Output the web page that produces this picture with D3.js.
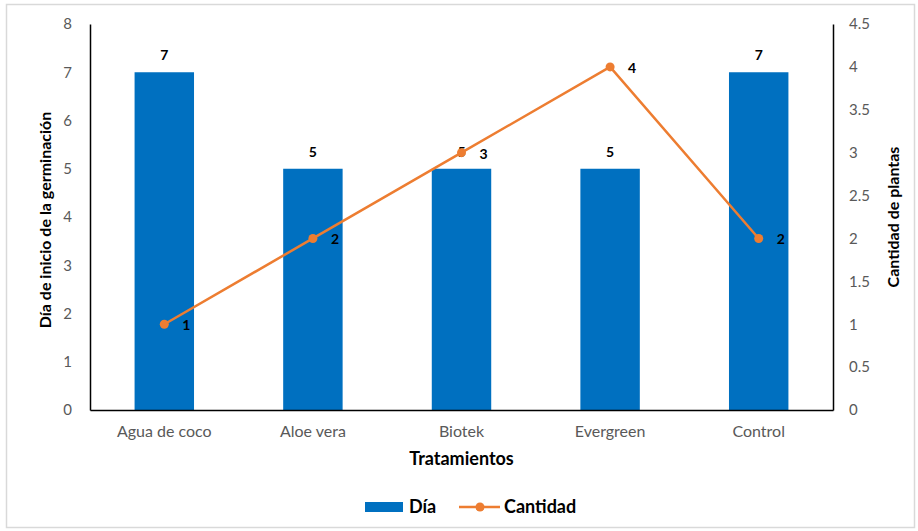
<!DOCTYPE html>
<html><head><meta charset="utf-8">
<script src="https://cdn.jsdelivr.net/npm/d3@7"></script>
<style>body{margin:0;background:#fff;}text{font-family:Lato,"Open Sans",sans-serif;}</style>
</head><body><svg id="c" width="918" height="531"></svg>
<script>
const categories = ["Agua de coco","Aloe vera","Biotek","Evergreen","Control"];
const dia = [7,5,5,5,7];
const cantidad = [1,2,3,4,2];
const leftTicks = [0,1,2,3,4,5,6,7,8];
const rightTicks = [0,0.5,1,1.5,2,2.5,3,3.5,4,4.5];

const svg = d3.select("#c");
svg.append("rect").attr("x",6.5).attr("y",4.5).attr("width",908).attr("height",523)
  .attr("fill","#fff").attr("stroke","#d9d9d9").attr("stroke-width",1.5);

const L=90, R=833, T=24, B=410;
const x = d3.scaleBand().domain(categories).range([L,R]).paddingInner(0.6).paddingOuter(0.3);
const yL = d3.scaleLinear().domain([0,8]).range([B,T]);
const yR = d3.scaleLinear().domain([0,4.5]).range([B,T]);
const blue="#0070C0", orange="#ED7D31";

// bars
svg.selectAll("rect.bar").data(categories).enter().append("rect").attr("class","bar")
  .attr("x",d=>x(d)).attr("width",x.bandwidth())
  .attr("y",(d,i)=>yL(dia[i])).attr("height",(d,i)=>B-yL(dia[i])).attr("fill",blue);

// axes
const axL = svg.append("g").attr("transform",`translate(${L},0)`).call(d3.axisLeft(yL).tickValues(leftTicks).tickSize(0).tickPadding(18).tickFormat(d3.format("d")));
const axR = svg.append("g").attr("transform",`translate(${R},0)`).call(d3.axisRight(yR).tickValues(rightTicks).tickSize(0).tickPadding(16).tickFormat(d=>String(d)));
const axB = svg.append("g").attr("transform",`translate(0,${B})`).call(d3.axisBottom(x).tickSize(0).tickPadding(16));
[axL,axR,axB].forEach(a=>{
  a.select(".domain").attr("stroke","#000").attr("stroke-width",1.5);
  a.selectAll("text").attr("fill","#595959").style("font-size","15px").style("font-family","Lato,'Open Sans',sans-serif");
});
axB.selectAll("text").style("font-size","16px");

// bar labels
svg.selectAll("text.bl").data(categories).enter().append("text")
  .attr("x",d=>x(d)+x.bandwidth()/2).attr("y",(d,i)=>yL(dia[i])-12)
  .attr("text-anchor","middle").attr("font-weight","bold").attr("font-size","14px").attr("fill","#000")
  .text((d,i)=>dia[i]);

// line
const cx = d=>x(d)+x.bandwidth()/2;
const line = d3.line().x((d,i)=>cx(categories[i])).y(d=>yR(d));
svg.append("path").datum(cantidad).attr("d",line).attr("fill","none").attr("stroke",orange).attr("stroke-width",2.5);
svg.selectAll("circle.pt").data(cantidad).enter().append("circle")
  .attr("cx",(d,i)=>cx(categories[i])).attr("cy",d=>yR(d)).attr("r",4.5).attr("fill",orange);
svg.selectAll("text.ll").data(cantidad).enter().append("text")
  .attr("x",(d,i)=>cx(categories[i])+18).attr("y",d=>yR(d)+6)
  .attr("font-weight","bold").attr("font-size","14px").attr("fill","#000").text(d=>d);

// titles
svg.append("text").attr("x",(L+R)/2).attr("y",465).attr("text-anchor","middle")
  .attr("font-weight","bold").attr("font-size","18px").attr("fill","#000").text("Tratamientos");
svg.append("text").attr("transform",`translate(51,${(T+B)/2+3}) rotate(-90)`).attr("text-anchor","middle")
  .attr("font-weight","bold").attr("font-size","16px").attr("fill","#000").text("Día de inicio de la germinación");
svg.append("text").attr("transform",`translate(899,${(T+B)/2}) rotate(-90)`).attr("text-anchor","middle")
  .attr("font-weight","bold").attr("font-size","16px").attr("fill","#000").text("Cantidad de plantas");

// legend
const lg = svg.append("g");
lg.append("rect").attr("x",365).attr("y",502).attr("width",38).attr("height",10).attr("fill",blue);
lg.append("text").attr("x",409).attr("y",513).attr("font-weight","bold").attr("font-size","18px").attr("fill","#000").text("Día");
lg.append("line").attr("x1",459).attr("x2",500).attr("y1",507).attr("y2",507).attr("stroke",orange).attr("stroke-width",2.5);
lg.append("circle").attr("cx",480).attr("cy",507).attr("r",4.5).attr("fill",orange);
lg.append("text").attr("x",504).attr("y",513).attr("font-weight","bold").attr("font-size","18px").attr("fill","#000").text("Cantidad");
</script></body></html>
